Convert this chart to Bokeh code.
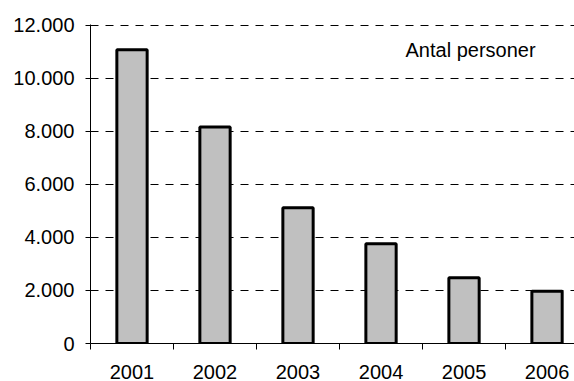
from bokeh.plotting import figure
from bokeh.models import FixedTicker, Label, Range1d
from bokeh.embed import file_html
from bokeh.resources import INLINE

years = ["2001", "2002", "2003", "2004", "2005", "2006"]
persons = [11080, 8160, 5120, 3760, 2480, 1970]
ytick_values = [0, 2000, 4000, 6000, 8000, 10000, 12000]
ytick_labels = ["0", "2.000", "4.000", "6.000", "8.000", "10.000", "12.000"]
series_label = "Antal personer"

FONT = "Liberation Sans"
FS = "20px"

xs = [i + 0.5 for i in range(len(years))]

p = figure(width=574, height=381, output_backend="svg", toolbar_location=None,
           x_range=Range1d(0, 5.831), y_range=Range1d(0, 12030))
p.min_border_left = 90
p.min_border_right = 0
p.min_border_top = 24
p.min_border_bottom = 38
p.outline_line_color = None
p.background_fill_color = "white"
p.border_fill_color = "white"

p.vbar(x=xs, top=persons, width=0.365, bottom=0, fill_color="#c0c0c0",
       line_color="black", line_width=3)

# x axis
p.xaxis.ticker = FixedTicker(ticks=xs, minor_ticks=list(range(len(years) + 1)))
p.xaxis.major_label_overrides = {x: y for x, y in zip(xs, years)}
p.xaxis.major_tick_out = 0
p.xaxis.major_tick_in = 0
p.xaxis.minor_tick_out = 6
p.xaxis.minor_tick_in = 0
p.xaxis.minor_tick_line_color = "black"
p.xaxis.axis_line_color = "black"
p.xaxis.axis_line_width = 1
p.xaxis.major_label_text_font = FONT
p.xaxis.major_label_text_font_size = FS
p.xaxis.major_label_text_color = "black"
p.xaxis.major_label_standoff = 15

# y axis
p.yaxis.ticker = FixedTicker(ticks=ytick_values, minor_ticks=[])
p.yaxis.major_label_overrides = {v: s for v, s in zip(ytick_values, ytick_labels)}
p.yaxis.major_tick_out = 5
p.yaxis.major_tick_in = 0
p.yaxis.major_tick_line_color = "black"
p.yaxis.axis_line_color = "black"
p.yaxis.major_label_text_font = FONT
p.yaxis.major_label_text_font_size = FS
p.yaxis.major_label_text_color = "black"
p.yaxis.major_label_standoff = 11

p.xgrid.grid_line_color = None
p.ygrid.ticker = FixedTicker(ticks=ytick_values[1:])
p.ygrid.grid_line_color = "black"
p.ygrid.grid_line_dash = "8 7"
p.ygrid.grid_line_width = 1

p.add_layout(Label(x=3.795, y=11070, text=series_label, text_font=FONT,
                   text_font_size=FS, text_color="black",
                   text_baseline="alphabetic", text_align="left"))

open("out.html", "w").write(file_html(p, INLINE))
